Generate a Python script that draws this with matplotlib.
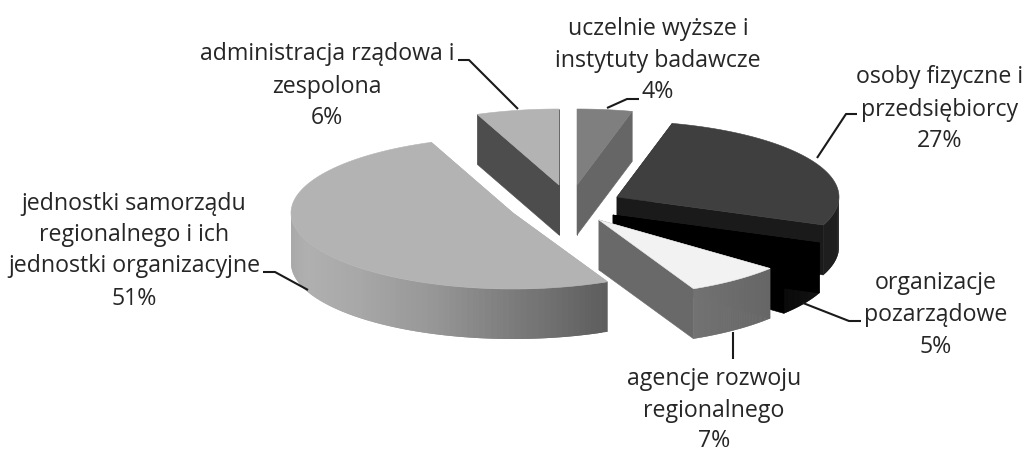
import numpy as np
import matplotlib
matplotlib.use("Agg")
import matplotlib.pyplot as plt
from matplotlib.colors import LinearSegmentedColormap

# Slice data, clockwise from the top of the pie
categories = ["uczelnie wyższe i\ninstytuty badawcze",
              "osoby fizyczne i\nprzedsiębiorcy",
              "organizacje\npozarządowe",
              "agencje rozwoju\nregionalnego",
              "jednostki samorządu\nregionalnego i ich\njednostki organizacyjne",
              "administracja rządowa i\nzespolona"]
shares = [4, 27, 5, 7, 51, 6]

# Look of the slices
top_colors = ["#7f7f7f", "#3f3f3f", "#000000", "#f2f2f2", "#b3b3b3", "#b3b3b3"]
cut_colors = ["#666666", "#1a1a1a", "#000000", "#696969", "#b3b3b3", "#4d4d4d"]
rim_stops = [["#666666", "#666666"],
             ["#1e1e1e", "#1e1e1e"],
             ["#000000", "#000000"],
             ["#666666", "#727272"],
             ["#5e5e5e", "#7a7a7a", "#979797", "#a8a8a8", "#b0b0b0", "#a6a6a6"],
             ["#4d4d4d", "#4d4d4d"]]
apex_x = [577, 617, 613, 599, 513, 559]
apex_y = [185, 197, 215, 220, 213, 185]
draw_order = [5, 0, 1, 4, 2, 3]

RX, RY, DEPTH = 222, 76, 50
START = 90.0

label_x = [658, 940, 936, 714, 134, 327]
label_base = [[35, 67, 98], [83, 116, 147], [289, 321, 353],
              [385, 417, 447], [210, 241, 272, 305], [60, 93, 124]]
leader_x = [[607, 627, 639], [817, 846, 857], [803, 849, 861],
            [733, 733], [308, 275, 263], [518, 469, 458]]
leader_y = [[108, 99, 99], [158, 114, 114], [303, 321, 321],
            [332, 359], [290, 272, 272], [109, 60, 60]]


def arc_points(cx, cy, t1, t2, n=120):
    t = np.radians(np.linspace(t1, t2, n))
    return cx + RX * np.cos(t), cy - RY * np.sin(t), np.degrees(t)


def draw_face(ax, xs, ys, color, lw=0.4):
    ax.fill(xs, ys, facecolor=color, edgecolor=color, linewidth=lw)


def draw_slice(ax, i, t1, t2):
    cx, cy = apex_x[i], apex_y[i]
    x, y, t = arc_points(cx, cy, t1, t2)

    # Cut faces, the one further back first
    ends = sorted([(x[0], y[0]), (x[-1], y[-1])], key=lambda p: p[1])
    for ex, ey in ends:
        draw_face(ax, [cx, ex, ex, cx], [cy, ey, ey + DEPTH, cy + DEPTH], cut_colors[i])

    # Outer rim only where it faces the viewer, strips overlap to avoid seams
    front = np.sin(np.radians(t)) <= 0.02
    if front.sum() > 1:
        fx, fy = x[front], y[front]
        cmap = LinearSegmentedColormap.from_list("rim", rim_stops[i])
        n = len(fx)
        for k in range(n - 1):
            j = min(k + 3, n)
            xs = np.r_[fx[k:j], fx[k:j][::-1]]
            ys = np.r_[fy[k:j], fy[k:j][::-1] + DEPTH]
            draw_face(ax, xs, ys, cmap(k / (n - 2)), lw=0)

    draw_face(ax, np.r_[cx, x], np.r_[cy, y], top_colors[i])


fig = plt.figure(figsize=(10.25, 4.5), dpi=100)
ax = fig.add_axes([0, 0, 1, 1])
ax.set_xlim(0, 1025)
ax.set_ylim(450, 0)
ax.axis("off")

spans = np.array(shares) / sum(shares) * 360
ends = START - np.cumsum(spans)
starts = ends + spans

for i in draw_order:
    draw_slice(ax, i, starts[i], ends[i])

for xs, ys in zip(leader_x, leader_y):
    ax.plot(xs, ys, color="#1a1a1a", linewidth=1.5, solid_capstyle="butt")

for name, share, x, bases in zip(categories, shares, label_x, label_base):
    for line, y in zip((name + f"\n{share}%").split("\n"), bases):
        ax.text(x, y, line, ha="center", va="baseline", fontsize=16.7,
                family="Open Sans", color="#262626")

fig.savefig("out.png", dpi=100)
